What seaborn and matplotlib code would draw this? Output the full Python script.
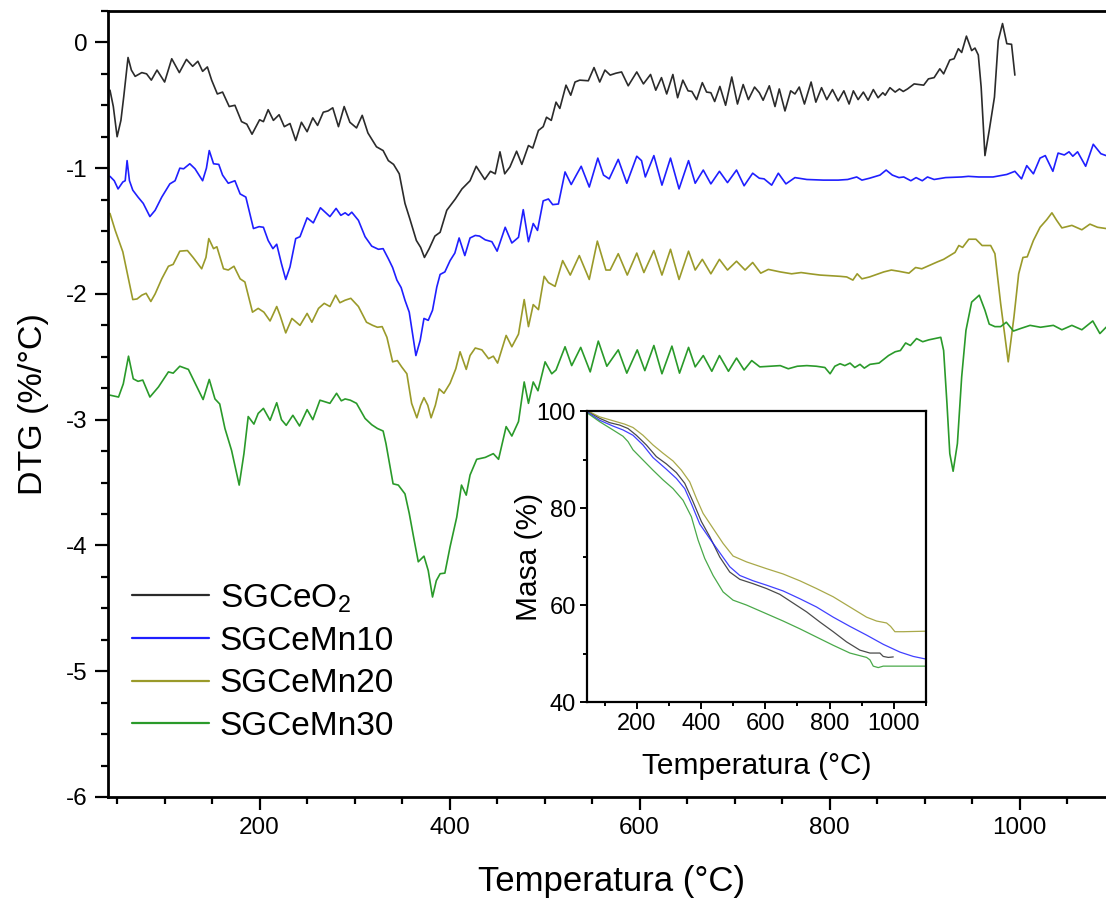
import matplotlib
matplotlib.use("Agg")
import matplotlib.pyplot as plt
from matplotlib.ticker import MultipleLocator
import seaborn as sns
import pandas as pd

t_ceo2 = [42.5, 46, 50, 54, 57, 61.5, 65, 69, 76, 81, 86, 92, 100, 107.5, 115.5, 123, 129.5, 135, 140, 145,
          149.5, 155.5, 161, 168, 174, 181, 186.5, 192, 200, 204, 209, 214.5, 220.5, 226, 232, 238, 244, 250,
          256, 261, 267, 272, 277, 283, 289, 295, 302, 308, 314, 323, 330, 335.5, 341, 347, 353, 358, 365,
          369.5, 373.5, 378.5, 384.5, 390, 397, 406, 413, 421.5, 428, 437, 443, 448, 453, 458, 463.5, 470.5,
          476, 483, 487.5, 493.5, 498.5, 502, 507, 512, 516, 522.5, 527.5, 532, 537, 546, 552, 558, 563.5,
          569, 575, 581, 588, 597, 604, 611.5, 617, 623, 628.5, 635, 640, 645.5, 651, 655, 660, 666, 670.5,
          675, 679, 684.5, 690.5, 697, 703, 709, 714.5, 721, 726, 730, 736.5, 742.5, 747, 753, 759, 763.5,
          768, 773.5, 780.5, 785.5, 791.5, 797, 803, 809, 815, 820.5, 825, 830, 835.5, 840.5, 846, 851, 856,
          858.5, 863.5, 869, 873.5, 877.5, 882, 889, 899, 904, 910, 916, 920, 926.5, 931, 935.5, 939, 944,
          949.5, 953, 956.5, 959.5, 963.5, 968, 973.5, 977.5, 982, 986.5, 991.5, 995]
dtg_ceo2 = [-0.38, -0.51, -0.75, -0.62, -0.43, -0.12, -0.22, -0.27, -0.24, -0.25, -0.30, -0.22, -0.315, -0.13,
            -0.24, -0.135, -0.19, -0.15, -0.23, -0.195, -0.30, -0.41, -0.395, -0.51, -0.50, -0.63, -0.65, -0.73,
            -0.615, -0.63, -0.535, -0.62, -0.575, -0.67, -0.645, -0.78, -0.635, -0.71, -0.60, -0.66, -0.555,
            -0.545, -0.52, -0.67, -0.51, -0.635, -0.68, -0.58, -0.72, -0.83, -0.86, -0.94, -0.97, -1.045,
            -1.28, -1.40, -1.575, -1.63, -1.71, -1.64, -1.54, -1.51, -1.335, -1.245, -1.165, -1.10, -0.985,
            -1.09, -1.025, -1.045, -0.87, -1.045, -0.99, -0.865, -0.97, -0.82, -0.84, -0.70, -0.67, -0.595,
            -0.62, -0.475, -0.525, -0.34, -0.42, -0.315, -0.30, -0.305, -0.20, -0.315, -0.22, -0.26, -0.245,
            -0.235, -0.345, -0.235, -0.33, -0.255, -0.38, -0.28, -0.41, -0.255, -0.44, -0.30, -0.385, -0.39,
            -0.455, -0.32, -0.395, -0.40, -0.47, -0.35, -0.50, -0.275, -0.49, -0.335, -0.455, -0.355, -0.40,
            -0.46, -0.345, -0.51, -0.37, -0.545, -0.385, -0.41, -0.355, -0.49, -0.315, -0.475, -0.36, -0.455,
            -0.375, -0.465, -0.385, -0.49, -0.385, -0.455, -0.395, -0.46, -0.375, -0.44, -0.40, -0.42, -0.36,
            -0.395, -0.37, -0.39, -0.37, -0.33, -0.34, -0.29, -0.28, -0.21, -0.25, -0.14, -0.13, -0.05, -0.08,
            0.05, -0.065, -0.045, -0.10, -0.355, -0.90, -0.70, -0.435, 0.015, 0.15, -0.01, -0.015, -0.26]

t_mn10 = [42.5, 47, 51, 56, 58.5, 60.5, 63, 66.5, 72, 77.5, 84.5, 90, 97, 105.5, 111, 116, 120, 126.5, 132,
          140, 144, 147, 151.5, 157, 161, 167, 174, 179.5, 185.5, 193.5, 199.5, 204, 209, 214, 218, 223,
          227.5, 232, 238, 242.5, 250, 256.5, 264, 274, 280.5, 285.5, 290, 293.5, 297, 304, 311, 318, 325,
          330, 335.5, 340, 344.5, 349, 353, 357.5, 362, 364.5, 369, 373, 377.5, 382, 386.5, 390, 395, 400.5,
          405.5, 410, 416, 421.5, 427, 431.5, 437.5, 444.5, 450, 458.5, 465.5, 472.5, 477.5, 483, 488, 492.5,
          498.5, 504, 508.5, 514.5, 521.5, 528, 533, 538.5, 547, 556, 562, 568, 577.5, 586.5, 597, 602, 606,
          615, 623.5, 632.5, 641.5, 651.5, 658.5, 667, 675, 684, 692.5, 702, 710, 719, 726, 731, 739, 746,
          754, 763.5, 776, 793.5, 809, 819, 828.5, 834, 842, 853, 859.5, 866, 873, 878, 885.5, 891, 897.5,
          903, 910, 922, 939, 946, 957, 972, 986.5, 995, 1002, 1007.5, 1014.5, 1021.5, 1027, 1035, 1040.5,
          1047, 1052, 1056, 1061, 1069.5, 1077.5, 1085.5, 1091, 1098]
dtg_mn10 = [-1.065, -1.10, -1.165, -1.11, -1.10, -0.94, -1.10, -1.175, -1.23, -1.28, -1.385, -1.335, -1.23,
            -1.125, -1.10, -1.00, -1.005, -0.965, -1.005, -1.10, -1.00, -0.86, -0.965, -0.97, -1.055, -1.12,
            -1.10, -1.205, -1.23, -1.48, -1.465, -1.47, -1.575, -1.64, -1.605, -1.76, -1.885, -1.785, -1.56,
            -1.545, -1.395, -1.435, -1.315, -1.385, -1.32, -1.375, -1.355, -1.375, -1.35, -1.415, -1.545,
            -1.62, -1.645, -1.64, -1.72, -1.79, -1.89, -1.95, -2.05, -2.145, -2.37, -2.49, -2.37, -2.195,
            -2.21, -2.13, -1.945, -1.845, -1.825, -1.735, -1.675, -1.555, -1.695, -1.555, -1.535, -1.54,
            -1.57, -1.585, -1.66, -1.47, -1.595, -1.55, -1.33, -1.585, -1.44, -1.495, -1.26, -1.245, -1.29,
            -1.285, -1.03, -1.13, -1.06, -0.985, -1.15, -0.92, -1.055, -1.085, -0.93, -1.12, -0.905, -0.94,
            -1.07, -0.90, -1.135, -0.92, -1.165, -0.94, -1.12, -1.015, -1.125, -1.025, -1.115, -1.015, -1.14,
            -1.04, -1.08, -1.085, -1.135, -1.04, -1.125, -1.075, -1.09, -1.095, -1.095, -1.09, -1.07, -1.095,
            -1.08, -1.055, -1.015, -1.055, -1.075, -1.07, -1.10, -1.075, -1.10, -1.07, -1.09, -1.075, -1.07,
            -1.065, -1.07, -1.07, -1.05, -1.025, -1.085, -0.98, -1.045, -0.92, -0.90, -1.025, -0.88, -0.895,
            -0.87, -0.905, -0.87, -0.985, -0.81, -0.885, -0.90, -0.90]

t_mn20 = [42.5, 48, 56, 60, 66.5, 71, 76, 80.5, 85.5, 90, 97, 104, 109, 116, 124, 130, 139, 143.5, 146.5,
          151.5, 155, 162, 167, 173, 179.5, 184.5, 192.5, 198.5, 204.5, 211, 218, 221.5, 227.5, 234, 242.5,
          250, 255, 262, 268, 274, 280, 284.5, 290, 296, 304, 312.5, 319, 324, 329, 334, 340, 345, 349.5,
          355, 360, 365.5, 369.5, 373, 377, 380.5, 385, 389, 394, 400.5, 406.5, 411, 417.5, 421.5, 427, 434,
          441, 446, 450.5, 459.5, 465.5, 472.5, 478.5, 483, 488, 493.5, 499.5, 504, 511, 519, 527, 536.5,
          547, 555.5, 564.5, 569, 577.5, 587, 597, 604.5, 615, 623.5, 632.5, 641.5, 651.5, 658.5, 666, 675,
          684, 692.5, 702, 711, 719, 727.5, 735.5, 748, 760, 770, 779.5, 790, 800, 811, 818, 824.5, 829,
          834, 842, 849.5, 857, 865, 873, 883.5, 890.5, 897, 904.5, 913.5, 920, 926.5, 932, 936, 940, 946.5,
          954, 960.5, 969.5, 974, 980, 988, 994, 999, 1003.5, 1008, 1014.5, 1021.5, 1028.5, 1034, 1039,
          1044.5, 1055, 1065.5, 1074, 1082, 1091, 1098]
dtg_mn20 = [-1.36, -1.495, -1.665, -1.81, -2.045, -2.04, -2.01, -1.995, -2.06, -2.00, -1.88, -1.78, -1.765,
            -1.66, -1.655, -1.71, -1.80, -1.71, -1.56, -1.64, -1.625, -1.80, -1.81, -1.78, -1.88, -1.905,
            -2.145, -2.115, -2.145, -2.215, -2.10, -2.17, -2.31, -2.195, -2.25, -2.155, -2.225, -2.115,
            -2.075, -2.10, -2.01, -2.07, -2.05, -2.035, -2.10, -2.225, -2.25, -2.265, -2.26, -2.345, -2.54,
            -2.53, -2.58, -2.635, -2.87, -2.985, -2.885, -2.825, -2.885, -2.985, -2.885, -2.755, -2.79, -2.71,
            -2.595, -2.46, -2.60, -2.49, -2.43, -2.445, -2.515, -2.495, -2.55, -2.33, -2.42, -2.32, -2.045,
            -2.26, -2.085, -2.125, -1.86, -1.91, -1.94, -1.735, -1.85, -1.695, -1.885, -1.58, -1.81, -1.81,
            -1.68, -1.85, -1.675, -1.83, -1.655, -1.85, -1.645, -1.885, -1.66, -1.81, -1.725, -1.84, -1.725,
            -1.81, -1.74, -1.81, -1.75, -1.835, -1.805, -1.825, -1.84, -1.83, -1.84, -1.85, -1.855, -1.86,
            -1.865, -1.89, -1.84, -1.88, -1.865, -1.845, -1.825, -1.81, -1.82, -1.835, -1.79, -1.80, -1.775,
            -1.745, -1.725, -1.695, -1.67, -1.615, -1.63, -1.565, -1.565, -1.615, -1.615, -1.68, -2.075,
            -2.54, -2.185, -1.84, -1.71, -1.705, -1.575, -1.47, -1.41, -1.355, -1.415, -1.475, -1.455, -1.49,
            -1.445, -1.47, -1.48, -1.47]

t_mn30 = [42.5, 51.5, 56.5, 62, 67, 72, 77, 84.5, 93.5, 104, 109, 116, 125, 134, 140.5, 147, 153, 158, 163.5,
          170.5, 178.5, 183.5, 188, 194, 198.5, 204, 211, 218, 223, 228, 235, 242, 250, 256, 263.5, 274, 281,
          286, 290, 295.5, 302, 311, 318, 324, 330, 333, 340.5, 346, 353, 357.5, 362, 367, 373, 377.5, 382,
          386, 390, 395, 400.5, 407.5, 412.5, 417.5, 421.5, 428.5, 437.5, 446, 451.5, 459.5, 465.5, 472.5,
          478.5, 483, 488, 493, 500.5, 507.5, 512, 521.5, 528.5, 538, 548, 556.5, 565.5, 577.5, 586.5, 597.5,
          605.5, 615, 623.5, 634, 642, 651.5, 658.5, 667, 676, 684, 693.5, 702, 710, 718, 726.5, 737, 748,
          756.5, 766, 776, 786, 795, 800.5, 805.5, 811, 816, 821.5, 826.5, 832, 836.5, 842.5, 852, 862, 869,
          874.5, 880, 885, 891.5, 898, 904.5, 911, 917, 920, 923.5, 926.5, 930, 934.5, 939, 943.5, 949.5,
          957.5, 963.5, 968, 974, 980, 986, 993.5, 1001, 1011, 1022, 1035.5, 1044.5, 1055, 1065.5, 1077,
          1084.5, 1091, 1098]
dtg_mn30 = [-2.805, -2.82, -2.715, -2.495, -2.675, -2.695, -2.685, -2.82, -2.74, -2.62, -2.63, -2.575, -2.60,
            -2.74, -2.84, -2.68, -2.835, -2.875, -3.07, -3.245, -3.52, -3.27, -2.975, -3.035, -2.95, -2.91,
            -3.005, -2.865, -3.00, -3.045, -2.965, -3.05, -2.92, -3.00, -2.845, -2.87, -2.79, -2.85, -2.835,
            -2.845, -2.87, -2.99, -3.04, -3.07, -3.09, -3.19, -3.51, -3.52, -3.59, -3.745, -3.93, -4.13,
            -4.085, -4.20, -4.41, -4.28, -4.225, -4.22, -4.01, -3.775, -3.52, -3.60, -3.44, -3.315, -3.30,
            -3.27, -3.315, -3.055, -3.13, -3.015, -2.70, -2.87, -2.70, -2.77, -2.54, -2.635, -2.605, -2.42,
            -2.57, -2.425, -2.62, -2.375, -2.575, -2.445, -2.63, -2.445, -2.61, -2.41, -2.635, -2.415, -2.63,
            -2.425, -2.58, -2.49, -2.615, -2.49, -2.615, -2.51, -2.605, -2.53, -2.58, -2.575, -2.57, -2.595,
            -2.575, -2.57, -2.575, -2.585, -2.635, -2.575, -2.555, -2.57, -2.55, -2.585, -2.56, -2.59, -2.56,
            -2.55, -2.49, -2.46, -2.45, -2.39, -2.41, -2.355, -2.38, -2.365, -2.355, -2.345, -2.45, -2.87,
            -3.27, -3.41, -3.19, -2.66, -2.29, -2.065, -2.01, -2.13, -2.24, -2.26, -2.26, -2.225, -2.295,
            -2.275, -2.25, -2.265, -2.25, -2.285, -2.25, -2.285, -2.215, -2.315, -2.265, -2.26]

# TGA curves for the inset, mass in %
tga_t_ceo2 = [48, 84.5, 115.6, 146.8, 172.7, 198.7, 229.8, 261, 292.1, 323.3, 349.3, 375.2, 401.2, 427.1,
              458.3, 489.4, 520.6, 562.1, 603.7, 645.2, 686.7, 728.3, 769.8, 811.4, 852.9, 894.4, 925.6,
              956.7, 967.1, 982.7, 998.3]
tga_m_ceo2 = [99.9, 98.5, 97.6, 97.1, 96.4, 95.0, 93.0, 90.6, 89.1, 87.3, 85.1, 81.3, 77.2, 74.1, 69.9,
              66.8, 65.3, 64.4, 63.4, 62.2, 60.4, 58.6, 56.5, 54.5, 52.4, 50.7, 50.1, 50.1, 49.4, 49.2, 49.3]
tga_t_mn10 = [48, 84.5, 126, 157.2, 188.3, 219.4, 250.6, 292.1, 323.3, 349.3, 370, 396, 427.1, 458.3, 489.4,
              520.6, 562.1, 603.7, 655.6, 707.5, 759.4, 811.4, 863.3, 915.2, 967.1, 1019, 1060.6, 1097]
tga_m_mn10 = [99.7, 98.1, 96.9, 96.1, 95.0, 93.0, 90.4, 88.0, 86.1, 84.0, 80.9, 76.7, 73.7, 70.8, 67.9,
              66.1, 65.0, 64.1, 62.9, 61.3, 59.6, 57.5, 55.6, 53.8, 51.9, 50.3, 49.4, 48.9]
tga_t_mn20 = [48, 84.5, 126, 162.3, 188.3, 219.4, 250.6, 281.8, 312.9, 338.9, 364.8, 385.6, 406.4, 437.5,
              468.7, 499.8, 541.4, 603.7, 655.6, 707.5, 759.4, 811.4, 863.3, 915.2, 946.3, 977.5, 990,
              1003.4, 1029.4, 1097]
tga_m_mn20 = [100.0, 98.8, 98.0, 97.3, 96.6, 95.0, 93.0, 91.3, 89.7, 87.8, 85.4, 82.0, 78.9, 75.8, 72.7,
              70.1, 68.9, 67.5, 66.4, 65.0, 63.4, 61.7, 59.6, 57.5, 56.7, 56.3, 55.6, 54.5, 54.5, 54.6]
tga_t_mn30 = [48, 84.5, 126, 157.2, 172.7, 188.3, 219.4, 250.6, 281.8, 312.9, 344, 370, 390.8, 411.6, 437.5,
              468.7, 499.8, 541.4, 603.7, 655.6, 707.5, 759.4, 811.4, 863.3, 915.2, 925.6, 936, 951.5, 967.1,
              1019, 1097]
tga_m_mn30 = [99.5, 97.8, 96.1, 94.8, 93.7, 92.0, 89.9, 87.8, 85.8, 84.0, 81.6, 78.2, 73.4, 69.6, 66.1,
              62.7, 61.0, 60.0, 58.2, 56.7, 55.1, 53.4, 51.7, 50.1, 49.2, 48.7, 47.4, 47.1, 47.4, 47.4, 47.4]

names = ["SGCeO$_\\mathregular{2}$", "SGCeMn10", "SGCeMn20", "SGCeMn30"]
colors = ["#2b2b2b", "#1f1fff", "#9a9a2a", "#2a9a2a"]

sns.set_style("ticks")
plt.rcParams["font.family"] = ["Liberation Sans", "DejaVu Sans"]
plt.rcParams["mathtext.fontset"] = "custom"
plt.rcParams["mathtext.rm"] = "Liberation Sans"
plt.rcParams["axes.unicode_minus"] = False
for key in ["text.color", "axes.labelcolor", "xtick.color", "ytick.color", "axes.edgecolor"]:
    plt.rcParams[key] = "black"

fig = plt.figure(figsize=(11.06, 8.99), dpi=100)
ax = fig.add_axes([0.0973, 0.1135, 0.9105, 0.8743])

dtg = [(t_ceo2, dtg_ceo2), (t_mn10, dtg_mn10), (t_mn20, dtg_mn20), (t_mn30, dtg_mn30)]
for (t, v), name, c in zip(dtg, names, colors):
    df = pd.DataFrame({"T": t, "DTG": v})
    sns.lineplot(data=df, x="T", y="DTG", ax=ax, color=c, lw=1.2, label=name,
                 sort=False, estimator=None)

ax.set_xlim(40, 1100)
ax.set_ylim(-6, 0.25)
ax.xaxis.set_major_locator(MultipleLocator(200))
ax.xaxis.set_minor_locator(MultipleLocator(50))
ax.yaxis.set_major_locator(MultipleLocator(1))
ax.yaxis.set_minor_locator(MultipleLocator(0.25))
ax.tick_params(which="major", direction="out", length=9.5, width=1.6, labelsize=17.5, pad=5)
ax.tick_params(which="minor", direction="out", length=5, width=1.6)
ax.tick_params(top=False, right=False, which="both")
for s in ax.spines.values():
    s.set_linewidth(2)
ax.set_xlabel("Temperatura (°C)", fontsize=25, labelpad=19)
ax.set_ylabel("DTG (%/°C)", fontsize=24.5, labelpad=12)

leg = ax.legend(loc="upper left", bbox_to_anchor=(0.1193, 0.3526), bbox_transform=fig.transFigure,
                frameon=False, fontsize=24, handlelength=2.3, handletextpad=0.33,
                labelspacing=0.34, borderpad=0, borderaxespad=0)
for h in leg.get_lines():
    h.set_linewidth(1.6)

# inset with mass loss
ins = fig.add_axes([0.5307, 0.2191, 0.3065, 0.3237])
tga = [(tga_t_ceo2, tga_m_ceo2), (tga_t_mn10, tga_m_mn10), (tga_t_mn20, tga_m_mn20), (tga_t_mn30, tga_m_mn30)]
for (t, m), c in zip(tga, colors):
    df = pd.DataFrame({"T": t, "Masa": m})
    sns.lineplot(data=df, x="T", y="Masa", ax=ins, color=c, lw=0.9, alpha=0.85,
                 sort=False, estimator=None)
ins.set_xlim(45, 1100)
ins.set_ylim(40, 100)
ins.xaxis.set_major_locator(MultipleLocator(200))
ins.xaxis.set_minor_locator(MultipleLocator(100))
ins.yaxis.set_major_locator(MultipleLocator(20))
ins.yaxis.set_minor_locator(MultipleLocator(10))
ins.tick_params(which="major", direction="out", length=5, width=1.4, labelsize=17, pad=3)
ins.tick_params(which="minor", direction="out", length=3, width=1.4)
for s in ins.spines.values():
    s.set_linewidth(1.6)
ins.set_xlabel("Temperatura (°C)", fontsize=21.5, labelpad=12)
ins.set_ylabel("Masa (%)", fontsize=21.5, labelpad=-5)

fig.savefig("out.png", dpi=100)
